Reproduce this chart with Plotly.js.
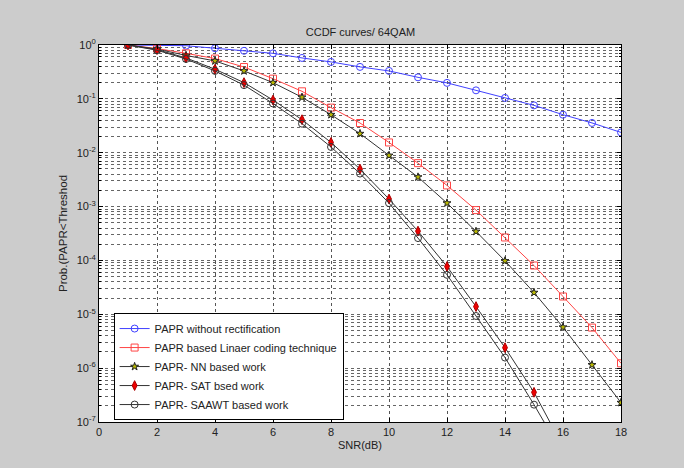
<!DOCTYPE html>
<html>
<head>
<meta charset="utf-8">
<script src="https://cdn.plot.ly/plotly-3.0.1.min.js"></script>
<style>html,body{margin:0;padding:0;background:#cccccc;}#chart{width:684px;height:468px;}</style>
</head>
<body>
<div id="chart"></div>
<script>
// ---- data ----
const snrFull = [1,2,3,4,5,6,7,8,9,10,11,12,13,14,15,16,17,18];
const snrShort = [1,2,3,4,5,6,7,8,9,10,11,12,13,14,15,16];
const paprNoRect = [1.0,0.99,0.97,0.87,0.78,0.70,0.575,0.485,0.392,0.33,0.251,0.198,0.144,0.104,0.0757,0.0508,0.0357,0.0238];
const paprLinear = [1.0,0.86,0.70,0.56,0.39,0.237,0.138,0.0687,0.0356,0.0155,0.0064,0.00247,8.6e-4,2.67e-4,8.05e-5,2.14e-5,5.66e-6,1.23e-6];
const paprNN = [1.0,0.84,0.64,0.506,0.33,0.2,0.107,0.0508,0.0226,0.0089,0.00353,0.00116,3.45e-4,9.8e-5,2.53e-5,5.76e-6,1.15e-6,2.29e-7];
const paprSAT = [1.0,0.82,0.575,0.355,0.2,0.095,0.041,0.0155,0.00497,0.00138,3.5e-4,7.7e-5,1.39e-5,2.4e-6,3.56e-7,3.5e-8];
const paprSAAWT = [1.0,0.80,0.55,0.33,0.18,0.082,0.0346,0.0128,0.0041,0.00116,2.6e-4,5.4e-5,9.3e-6,1.57e-6,2.1e-7,2.5e-8];
const seriesNames = ["PAPR without rectification","PAPR based Linaer coding technique","PAPR- NN based work","PAPR- SAT bsed work","PAPR- SAAWT based work"];
const xTickVals = [0,2,4,6,8,10,12,14,16,18];
const yDecades = [1e-7,1e-6,1e-5,1e-4,1e-3,1e-2,1e-1,1e0];
const yDecadeText = ["10<sup>-7</sup>","10<sup>-6</sup>","10<sup>-5</sup>","10<sup>-4</sup>","10<sup>-3</sup>","10<sup>-2</sup>","10<sup>-1</sup>","10<sup>0</sup>"];
const minorMultipliers = [2,3,4,5,6,7,8,9];

// sub-decade positions for the minor log grid
const yMinorVals = [];
yDecades.forEach(d => { if (d < 1) minorMultipliers.forEach(m => yMinorVals.push(d*m)); });

const FONT = "Liberation Sans, Arial, sans-serif";
const blk = "#333333";

const traces = [
  {x: snrFull, y: paprNoRect, name: seriesNames[0], mode: "lines+markers",
   line: {color: "#4040ff", width: 1},
   marker: {symbol: "circle-open", size: 7, color: "#4040ff", line: {width: 1}}},
  {x: snrFull, y: paprLinear, name: seriesNames[1], mode: "lines+markers",
   line: {color: "#ff4545", width: 1},
   marker: {symbol: "square-open", size: 7, color: "#ff4545", line: {width: 1}}},
  {x: snrFull, y: paprNN, name: seriesNames[2], mode: "lines+markers",
   line: {color: blk, width: 1},
   marker: {symbol: "star", size: 6, color: "#b8b800", line: {color: "#222", width: 1}}},
  {x: snrShort, y: paprSAT, name: seriesNames[3], mode: "lines+markers",
   line: {color: blk, width: 1},
   marker: {symbol: "diamond-tall", size: 7, color: "#ee0000", line: {color: "#aa0000", width: 1}}},
  {x: snrShort, y: paprSAAWT, name: seriesNames[4], mode: "lines+markers",
   line: {color: blk, width: 1},
   marker: {symbol: "circle-open", size: 7, color: blk, line: {width: 1}}}
];

const layout = {
  width: 684, height: 468,
  paper_bgcolor: "#cccccc", plot_bgcolor: "#ffffff",
  margin: {l: 99, r: 63, t: 45, b: 46},
  font: {family: FONT, size: 11, color: "#222"},
  title: {text: "CCDF curves/ 64QAM", x: 0.527, xanchor: "center", y: 0.932, yanchor: "middle",
          font: {family: FONT, size: 11, color: "#222"}},
  showlegend: true,
  legend: {x: 0.028, y: 0.289, xanchor: "left", yanchor: "top",
           bgcolor: "#ffffff", bordercolor: "#000", borderwidth: 1,
           font: {family: FONT, size: 11, color: "#222"}, tracegroupgap: 0},
  xaxis: {
    range: [0, 18], tickvals: xTickVals, ticks: "inside", ticklen: 4, tickcolor: "#000",
    showline: true, linecolor: "#000", linewidth: 1, mirror: "ticks",
    showgrid: true, gridcolor: "#555", griddash: "dot", gridwidth: 1, zeroline: false,
    tickfont: {family: FONT, size: 11, color: "#222"},
    title: {text: "SNR(dB)", standoff: 4, font: {family: FONT, size: 11, color: "#222"}}
  },
  yaxis: {
    type: "log", range: [-7, 0], tickmode: "array", tickvals: yDecades, ticktext: yDecadeText,
    ticks: "inside", ticklen: 4, tickcolor: "#000",
    showline: true, linecolor: "#000", linewidth: 1, mirror: "ticks",
    showgrid: true, gridcolor: "#666", griddash: "dot", gridwidth: 1, zeroline: false,
    minor: {tickmode: "array", tickvals: yMinorVals, ticks: "inside", ticklen: 2, tickcolor: "#000",
            showgrid: true, gridcolor: "#666", griddash: "dot", gridwidth: 1},
    tickfont: {family: FONT, size: 11, color: "#222"},
    title: {text: "Prob.(PAPR<Threshod", standoff: 6, font: {family: FONT, size: 11.5, color: "#222"}}
  }
};

Plotly.newPlot("chart", traces, layout, {displayModeBar: false, staticPlot: true});
</script>
</body>
</html>
